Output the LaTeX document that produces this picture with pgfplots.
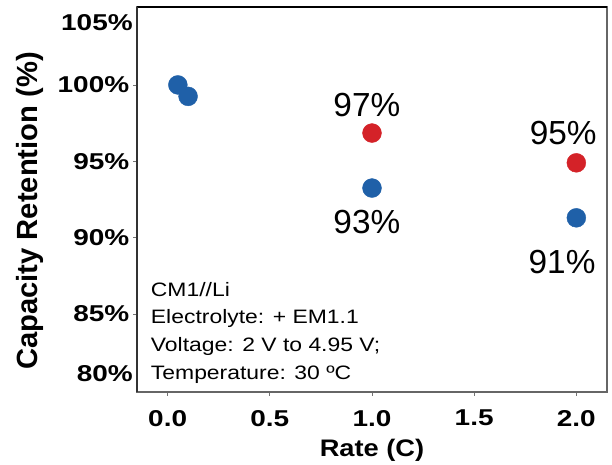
\documentclass[border=0pt]{standalone}
\usepackage{pgfplots}
\pgfplotsset{compat=1.18}
\usepackage{fontspec}
\setmainfont{Liberation Sans}
\definecolor{myblue}{RGB}{31,96,168}
\definecolor{myred}{RGB}{212,34,40}
\begin{document}
\begin{tikzpicture}
\begin{axis}[
  scale only axis,
  width=470bp, height=385bp,
  xmin=-0.15, xmax=2.15,
  ymin=79.9, ymax=105.1,
  axis line style={color=black!60, line width=1.1pt},
  tick align=outside,
  major tick length=3.5bp,
  tick style={black!55, line width=0.8pt},
  xtick={0,0.5,1,1.5,2},
  xticklabels={0.0,0.5,1.0,1.5,2.0},
  ytick={85,90,95,100},
  yticklabels={85\%,90\%,95\%,100\%},
  extra y ticks={81.1,104.1},
  extra y tick labels={80\%,105\%},
  extra y tick style={major tick length=0pt},
  xtick pos=bottom, ytick pos=left,
  ticklabel style={font=\fontsize{23}{27}\selectfont\bfseries, xscale=1.22},
  yticklabel style={xshift=0bp},
  xticklabel style={yshift=-11bp},
  xlabel={Rate (C)},
  ylabel={Capacity Retention (\%)},
  xlabel style={font=\fontsize{24}{28}\selectfont\bfseries, xscale=1.14,
                at={(axis description cs:0.5,0)}, anchor=center, yshift=-58bp},
  ylabel style={font=\fontsize{29.3}{32}\selectfont\bfseries,
                at={(axis description cs:-0.2277,0.47)}, anchor=center, rotate=0},
  clip=false,
]
\addplot[only marks, mark=*, mark size=9.5pt, color=myblue] coordinates {
  (0.05,100.0) (0.10,99.25) (1.0,93.25) (2.0,91.3)
};
\addplot[only marks, mark=*, mark size=9.5pt, color=myred] coordinates {
  (1.0,96.85) (2.0,94.9)
};
\draw[black, line width=1.6pt] (rel axis cs:0,1) -- (rel axis cs:1,1);
\draw[black!80, line width=1.2pt] (rel axis cs:0,0) -- (rel axis cs:0,1);
\node[font=\fontsize{33.5}{36}\selectfont] at (axis cs:0.975,98.7) {97\%};
\node[font=\fontsize{33.5}{36}\selectfont] at (axis cs:0.975,91.0) {93\%};
\node[font=\fontsize{33.5}{36}\selectfont] at (axis cs:1.936,96.86) {95\%};
\node[font=\fontsize{33.5}{36}\selectfont] at (axis cs:1.93,88.4) {91\%};
\node[anchor=north west, inner sep=0pt, align=left, xscale=1.18,
      font=\fontsize{19.5}{27.7}\selectfont] at (axis cs:-0.083,87.1)
  {CM1//Li\\Electrolyte: + EM1.1\\Voltage: 2 V to 4.95 V;\\Temperature: 30 ºC};
\end{axis}
\path ([shift={(-137bp,-73bp)}]current axis.south west) rectangle ([shift={(5bp,7bp)}]current axis.north east);
\end{tikzpicture}
\end{document}
